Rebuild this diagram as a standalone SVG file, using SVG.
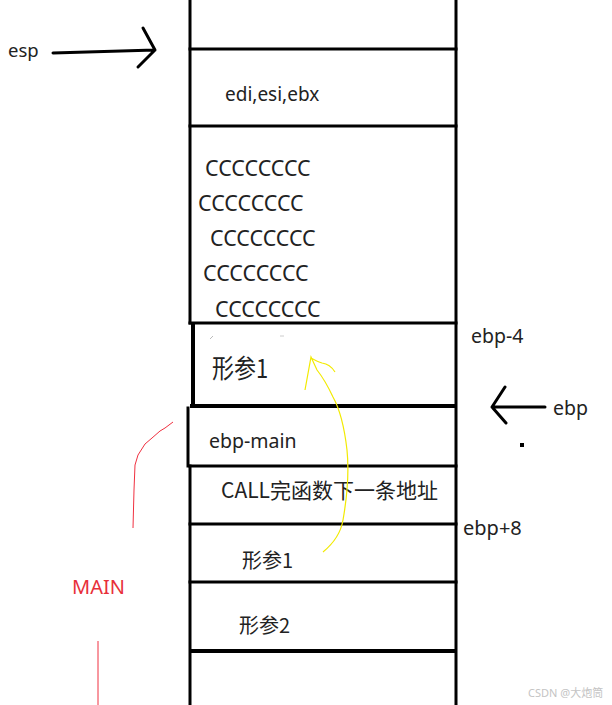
<svg xmlns="http://www.w3.org/2000/svg" width="612" height="705" viewBox="0 0 612 705">
<style>
.ln{stroke:#000;stroke-width:3;fill:none;stroke-linecap:square}
.tx{font-family:"Noto Sans","Open Sans","Noto Sans CJK SC",sans-serif;fill:#222}
.cj{font-family:"Noto Sans CJK SC","Noto Sans",sans-serif;fill:#222}
.ar{stroke:#000;stroke-width:3;fill:none;stroke-linecap:round;stroke-linejoin:round}
</style>
<rect width="612" height="705" fill="#fff"/>
<g id="stack-frame">
<line class="ln" x1="190" y1="0" x2="190" y2="323"/>
<line class="ln" x1="456" y1="0" x2="456" y2="705"/>
<line class="ln" x1="188" y1="408" x2="188" y2="466"/>
<line class="ln" x1="190" y1="466" x2="190" y2="705"/>
</g>
<g id="slot-top">
<line class="ln" x1="190" y1="49" x2="456" y2="49"/>
</g>
<g id="slot-regs">
<line class="ln" x1="190" y1="126" x2="456" y2="126"/>
<text class="tx" x="225" y="101" font-size="19">edi,esi,ebx</text>
</g>
<g id="slot-cccc" class="tx" font-size="21.5">
<text x="205" y="176">CCCCCCCC</text>
<text x="198" y="211">CCCCCCCC</text>
<text x="210" y="246">CCCCCCCC</text>
<text x="203" y="281">CCCCCCCC</text>
<text x="215" y="317">CCCCCCCC</text>
</g>
<g id="slot-param-local">
<line class="ln" x1="190" y1="323" x2="456" y2="323"/>
<line x1="193" y1="323" x2="193" y2="407" stroke="#000" stroke-width="4"/>
<line x1="190" y1="406" x2="456" y2="406" stroke="#000" stroke-width="4"/>
<text class="cj" x="212" y="380" font-size="22" transform="translate(0,-70) scale(1,1.18)">形参1</text>
<line x1="210" y1="339" x2="213" y2="336" stroke="#bbb" stroke-width="1"/>
<line x1="280" y1="336" x2="284" y2="336" stroke="#ccc" stroke-width="1"/>
</g>
<g id="slot-ebp-main">
<text class="tx" x="209" y="448" font-size="19.5">ebp-main</text>
<line class="ln" x1="190" y1="466" x2="456" y2="466"/>
</g>
<g id="slot-ret">
<text class="cj" x="221" y="498" font-size="21">CALL完函数下一条地址</text>
<line class="ln" x1="190" y1="524" x2="456" y2="524"/>
</g>
<g id="slot-arg1">
<text class="cj" x="242" y="568" font-size="20">形参1</text>
<line class="ln" x1="190" y1="582" x2="456" y2="582"/>
</g>
<g id="slot-arg2">
<text class="cj" x="239" y="633" font-size="20">形参2</text>
<line x1="190" y1="651" x2="456" y2="651" stroke="#000" stroke-width="4"/>
</g>
<g id="label-esp">
<text class="tx" x="8" y="57" font-size="18.5">esp</text>
</g>
<g id="label-ebp-4">
<text class="tx" x="471" y="343" font-size="19.5">ebp-4</text>
</g>
<g id="label-ebp">
<text class="tx" x="553" y="415" font-size="19.5">ebp</text>
<rect x="520" y="443" width="4" height="4" fill="#000"/>
</g>
<g id="label-ebp8">
<text class="tx" x="463" y="535" font-size="20">ebp+8</text>
</g>
<g id="label-main">
<text x="72" y="594" font-size="20" font-family="Noto Sans, Open Sans, sans-serif" fill="#e8303a">MAIN</text>
</g>
<g id="connectors">
<path class="ar" d="M53,53 L155,50 M143,28 L155,50 L138,67"/>
<path class="ar" d="M545,407 L492,407 M505,387 L492,407 L506,423"/>
<path d="M173,422 L165,428 L160,431 L152,438 L145,444 L138,455 L135,465 L134,490 L133,528" fill="none" stroke="#f03040" stroke-width="1"/>
<path d="M98,641 L98,705" fill="none" stroke="#f03040" stroke-width="1"/>
<path d="M323,552 Q340,538 343,520 Q350,480 347,450 Q343,415 333,397 Q325,380 317,370 L311,357 L305,390 M311,358 Q318,362 322,363 Q330,364 335,372" fill="none" stroke="#f2ea00" stroke-width="1.2"/>
</g>
<g id="watermark">
<text x="528" y="697" font-size="11" font-family="Noto Sans, Noto Sans CJK SC, sans-serif" fill="#c4c4c4">CSDN @大炮筒</text>
</g>
</svg>
